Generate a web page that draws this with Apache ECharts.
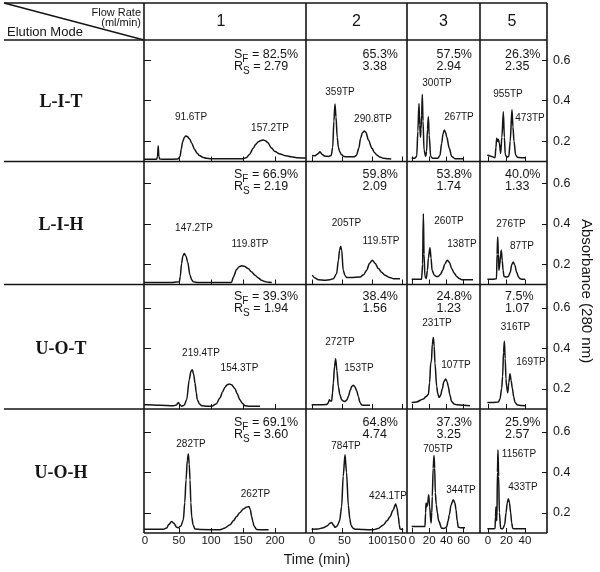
<!DOCTYPE html>
<html><head><meta charset="utf-8">
<script src="https://cdn.jsdelivr.net/npm/echarts@6/dist/echarts.min.js"></script>
<style>html,body{margin:0;padding:0;background:#fff}#c{width:600px;height:572px}</style>
</head><body><div id="c"></div>
<script>
// ---------- text content ----------
const flowRates = ['1', '2', '3', '5'];
const modes = ['L-I-T', 'L-I-H', 'U-O-T', 'U-O-H'];
const sfLIT = ['82.5%', '65.3%', '57.5%', '26.3%'];
const sfLIH = ['66.9%', '59.8%', '53.8%', '40.0%'];
const sfUOT = ['39.3%', '38.4%', '24.8%', '7.5%'];
const sfUOH = ['69.1%', '64.8%', '37.3%', '25.9%'];
const rsLIT = ['2.79', '3.38', '2.94', '2.35'];
const rsLIH = ['2.19', '2.09', '1.74', '1.33'];
const rsUOT = ['1.94', '1.56', '1.23', '1.07'];
const rsUOH = ['3.60', '4.74', '3.25', '2.57'];
const tpLIT = [['91.6TP', '157.2TP'], ['359TP', '290.8TP'], ['300TP', '267TP'], ['955TP', '473TP']];
const tpLIH = [['147.2TP', '119.8TP'], ['205TP', '119.5TP'], ['260TP', '138TP'], ['276TP', '87TP']];
const tpUOT = [['219.4TP', '154.3TP'], ['272TP', '153TP'], ['231TP', '107TP'], ['316TP', '169TP']];
const tpUOH = [['282TP', '262TP'], ['784TP', '424.1TP'], ['705TP', '344TP'], ['1156TP', '433TP']];

// ---------- axis ticks ----------
const xTicksF1 = [0, 50, 100, 150, 200];
const xTicksF2 = [0, 50, 100, 150];
const xTicksF3 = [0, 20, 40, 60];
const xTicksF5 = [0, 20, 40];
const yTicks = [0.2, 0.4, 0.6];

// ---------- chromatograms: [time (min), absorbance] ----------
const litF1 = [[-4.6,0.111],[0,0.111],[15,0.111],[16.5,0.125],[17.5,0.178],[18.5,0.125],[20,0.112],[30,0.111],[48,0.112],[51.6,0.124],[53.5,0.16],[55.7,0.198],[58.5,0.22],[60.4,0.226],[63,0.223],[66.4,0.212],[70,0.19],[74.2,0.16],[78,0.142],[82,0.13],[87,0.121],[92.4,0.116],[100,0.114],[150,0.114],[155.7,0.12],[160,0.135],[166,0.165],[170,0.185],[173.7,0.197],[178,0.204],[181.7,0.206],[185,0.203],[189,0.192],[194,0.168],[200,0.149],[208,0.137],[217,0.128],[225,0.123],[234,0.119],[248.4,0.117]];
const litF2 = [[0,0.13],[5,0.128],[10,0.138],[13.3,0.148],[17,0.134],[21.7,0.126],[28,0.125],[32,0.13],[34.5,0.17],[36.5,0.3],[38.3,0.384],[40,0.32],[42,0.22],[44,0.17],[46,0.15],[49,0.134],[53,0.125],[60,0.123],[70,0.123],[74,0.13],[78,0.165],[81,0.215],[84,0.242],[87.2,0.251],[90,0.243],[94,0.206],[100,0.165],[104,0.145],[108,0.132],[113,0.122],[119,0.116],[127,0.113],[132,0.112]];
const litF3 = [[-0.4,0.116],[3,0.116],[5.5,0.125],[6.8,0.25],[8.1,0.387],[9,0.28],[9.8,0.22],[10.5,0.26],[11.2,0.33],[12,0.432],[12.8,0.3],[14,0.157],[15.9,0.125],[17,0.15],[18,0.26],[19,0.321],[20,0.23],[21.7,0.125],[24,0.116],[30,0.116],[32.5,0.13],[34.5,0.19],[36,0.235],[37.6,0.256],[39,0.245],[40.3,0.222],[43.4,0.165],[46.1,0.125],[50,0.114],[59.7,0.113]];
const litF5 = [[-0.7,0.132],[4,0.125],[7.6,0.119],[8.6,0.17],[9.4,0.215],[10.3,0.2],[11.2,0.21],[12.3,0.19],[13.7,0.14],[15,0.22],[16.6,0.346],[17.7,0.22],[18.7,0.132],[20.5,0.122],[22.5,0.125],[24,0.2],[25.9,0.355],[27,0.27],[28.1,0.2],[29.9,0.132],[32,0.12],[36,0.119],[40.5,0.119]];

const lihF1 = [[-4.6,0.11],[0,0.11],[40,0.11],[50.5,0.114],[52,0.14],[54,0.203],[56,0.24],[58.3,0.253],[61,0.24],[63.5,0.211],[67.2,0.146],[70,0.122],[72.4,0.113],[80,0.11],[132,0.11],[135,0.137],[140,0.174],[144,0.188],[147.9,0.192],[152,0.19],[158,0.179],[163,0.163],[168.8,0.146],[174,0.132],[179,0.121],[184,0.115],[189.5,0.111],[195,0.11]];
const lihF2 = [[0.5,0.146],[5,0.132],[10.5,0.124],[21.7,0.121],[30,0.124],[35.6,0.129],[41,0.153],[44,0.22],[46,0.27],[47.8,0.289],[49.5,0.27],[52,0.17],[55,0.145],[57.8,0.134],[65,0.134],[80,0.137],[86,0.148],[91,0.17],[96,0.205],[100.6,0.22],[105,0.205],[110.6,0.179],[116,0.161],[121.7,0.146],[128,0.136],[135.6,0.129],[146.7,0.129]];
const lihF3 = [[-0.4,0.126],[5,0.126],[11.2,0.126],[12.3,0.2],[13.2,0.45],[14,0.25],[15,0.14],[16.5,0.13],[18,0.17],[19,0.23],[20.9,0.282],[22.2,0.23],[23.3,0.17],[26,0.146],[28,0.14],[30.6,0.14],[33,0.15],[35.7,0.17],[38,0.2],[41,0.22],[43.5,0.21],[46.1,0.179],[49,0.157],[51.9,0.14],[55,0.13],[57.8,0.124],[65,0.123],[71,0.123]];
const lihF5 = [[-0.7,0.126],[5,0.126],[9.2,0.128],[9.8,0.25],[10.5,0.335],[11.2,0.25],[11.8,0.17],[12.8,0.2],[13.6,0.25],[14.4,0.269],[15.4,0.22],[16.3,0.17],[17.3,0.14],[20,0.137],[22,0.14],[24,0.16],[25.8,0.2],[27.4,0.211],[29,0.195],[31,0.16],[33,0.137],[34.6,0.129],[37,0.126],[40,0.126]];

const uotF1 = [[-4.6,0.121],[0,0.121],[20,0.119],[41,0.116],[46,0.12],[49,0.132],[51,0.122],[54,0.114],[58,0.118],[62,0.146],[66,0.244],[68.5,0.285],[70.8,0.294],[73,0.27],[75,0.228],[77,0.18],[78.6,0.146],[82,0.125],[85.4,0.116],[95,0.113],[101,0.113],[108,0.125],[114,0.154],[118,0.185],[121.9,0.208],[125,0.219],[128.6,0.223],[132,0.22],[137.5,0.2],[141,0.175],[145,0.146],[149,0.128],[153,0.116],[160,0.113],[176.6,0.113]];
const uotF2 = [[-0.6,0.121],[10,0.121],[24.4,0.122],[27,0.13],[28.9,0.146],[30.8,0.14],[32.8,0.14],[34.2,0.18],[35.6,0.228],[37.5,0.31],[39.4,0.348],[41.5,0.29],[43.9,0.211],[46.5,0.17],[49.4,0.146],[52,0.14],[55,0.137],[58,0.145],[60.6,0.162],[64,0.195],[66.5,0.212],[68.9,0.217],[71.5,0.21],[74.5,0.19],[77.2,0.162],[80,0.132],[82.8,0.12],[90,0.118],[96.7,0.118]];
const uotF3 = [[-0.4,0.132],[5,0.135],[13.2,0.149],[16,0.16],[19,0.171],[20.5,0.23],[21.7,0.327],[22.6,0.335],[23.6,0.42],[24.8,0.453],[25.8,0.41],[26.7,0.327],[28.7,0.211],[30,0.175],[31.4,0.157],[33,0.165],[35.3,0.2],[37,0.235],[39.1,0.248],[40.8,0.235],[42.2,0.211],[44,0.17],[46.1,0.137],[49,0.125],[51.9,0.121],[60,0.118],[67.4,0.116]];
const uotF5 = [[-0.7,0.132],[5,0.132],[11.2,0.134],[13,0.15],[14.8,0.203],[15.8,0.26],[16.8,0.38],[17.7,0.434],[18.6,0.35],[19.4,0.25],[20.2,0.21],[21.3,0.18],[22.5,0.23],[23.8,0.274],[25,0.24],[26.3,0.203],[27.8,0.16],[29.2,0.132],[32,0.12],[36,0.117],[40,0.116]];

const uohF1 = [[-4.6,0.119],[0,0.119],[20,0.119],[25.5,0.119],[30.7,0.125],[34,0.142],[38.5,0.157],[42,0.148],[46.4,0.128],[49,0.126],[53,0.135],[56.8,0.165],[59,0.25],[61,0.363],[63,0.46],[64.6,0.49],[66,0.44],[67.2,0.363],[68.5,0.25],[69.8,0.182],[72,0.14],[75,0.12],[85,0.117],[114,0.116],[122,0.125],[129.7,0.141],[135,0.16],[140,0.182],[145,0.2],[150.5,0.218],[155,0.227],[159.4,0.231],[161.5,0.215],[163.5,0.182],[165.5,0.155],[167.2,0.134],[171.4,0.117],[180,0.116],[190,0.116]];
const uohF2 = [[-0.6,0.119],[10,0.12],[18.9,0.126],[25,0.135],[30,0.148],[32.8,0.152],[36,0.138],[38.3,0.128],[42,0.135],[46,0.16],[49.4,0.231],[52,0.38],[55,0.486],[57.5,0.4],[60.6,0.236],[63,0.17],[65,0.139],[68,0.125],[71.7,0.119],[85,0.117],[102.2,0.116],[110,0.122],[118.9,0.14],[125,0.16],[130,0.18],[135,0.212],[139.4,0.243],[141.5,0.225],[143.9,0.182],[145.5,0.14],[146.7,0.12],[152,0.116]];
const uohF3 = [[-0.4,0.132],[5,0.132],[15.1,0.132],[15.8,0.2],[16.3,0.248],[17.3,0.23],[18.3,0.25],[19.4,0.289],[20.5,0.23],[22.1,0.149],[23,0.2],[23.6,0.28],[24.6,0.42],[25.6,0.483],[26.4,0.42],[27.1,0.3],[28.2,0.24],[29.5,0.2],[31,0.16],[34.5,0.124],[37,0.122],[40.3,0.13],[42,0.16],[43.4,0.19],[45.5,0.24],[48,0.264],[49.8,0.25],[51.2,0.215],[52.5,0.16],[53.9,0.128],[57,0.126],[61.6,0.126]];
const uohF5 = [[-0.7,0.121],[5,0.121],[7.6,0.122],[8.1,0.18],[8.6,0.228],[9.1,0.18],[9.6,0.16],[10.2,0.4],[10.8,0.511],[11.5,0.38],[12.3,0.2],[13.7,0.122],[16,0.121],[18,0.14],[19.5,0.2],[20.8,0.25],[22,0.269],[23.2,0.25],[24.5,0.2],[25.6,0.15],[26.7,0.122],[30,0.121],[40,0.121]];

// ---------- layout (pixels) ----------
const LAY = {
  top: 3, head: 40, left: 4,
  rowBottom: [161.5, 284.5, 409, 533], rowH: 121.5,
  colL: [144, 306, 407, 480], colR: [306, 407, 480, 547],
  zeroX: [147, 312, 412, 488], ppu: [0.64, 0.6, 0.86, 0.925],
  sfX: [234, 362.5, 436.5, 505], sfY: [55, 175, 297, 423], rsDY: 12,
  tpPos: [
    [[[191,117],[270,128]], [[340,92],[373,119]], [[437,83],[459,117]], [[508,94],[530,118]]],
    [[[194,228],[250,244]], [[346.5,223],[381,241]], [[449,221],[462,244]], [[511,224],[522,246]]],
    [[[201,353],[239.5,368]], [[340,342],[359,368]], [[437,323],[456,365]], [[515.5,327],[531,362]]],
    [[[191,444],[255.5,494]], [[346,446],[388,496]], [[438,449],[461,490]], [[519,454],[523,487]]]
  ]
};

const FONT = '"Liberation Sans", Arial, Helvetica, sans-serif';
const INK = '#151515';
const curves = [[litF1, litF2, litF3, litF5], [lihF1, lihF2, lihF3, lihF5], [uotF1, uotF2, uotF3, uotF5], [uohF1, uohF2, uohF3, uohF5]];
const sfRows = [sfLIT, sfLIH, sfUOT, sfUOH];
const rsRows = [rsLIT, rsLIH, rsUOT, rsUOH];
const tpRows = [tpLIT, tpLIH, tpUOT, tpUOH];
const xTicks = [xTicksF1, xTicksF2, xTicksF3, xTicksF5];

const grids = [], xAxes = [], yAxes = [], series = [];
for (let r = 0; r < 4; r++) {
  for (let c = 0; c < 4; c++) {
    const g = r * 4 + c;
    grids.push({ left: LAY.colL[c], top: LAY.rowBottom[r] - LAY.rowH, width: LAY.colR[c] - LAY.colL[c], height: LAY.rowH, outerBoundsMode: 'none', containLabel: false });
    const tickVals = c === 0 ? xTicks[c].filter(v => v !== 0) : xTicks[c];
    const lab = {
      show: r === 3, customValues: xTicks[c], margin: 2, fontSize: 11.5, fontFamily: FONT, color: INK
    };
    if (c === 1) {
      lab.formatter = v => (v === 50 ? '{a|50}' : v === 100 ? '{b|100}' : v === 150 ? '{d|150}' : String(v));
      lab.rich = {
        a: { padding: [0, 0, 0, 5], fontSize: 11.5, fontFamily: FONT, color: INK },
        b: { padding: [0, 0, 0, 11], fontSize: 11.5, fontFamily: FONT, color: INK },
        d: { padding: [0, 10, 0, 0], fontSize: 11.5, fontFamily: FONT, color: INK }
      };
    }
    if (c === 0) {
      lab.formatter = v => (v === 0 ? '{z|0}' : String(v));
      lab.rich = { z: { padding: [0, 4, 0, 0], fontSize: 11.5, fontFamily: FONT, color: INK } };
    }
    xAxes.push({
      gridIndex: g, type: 'value',
      min: (LAY.colL[c] - LAY.zeroX[c]) / LAY.ppu[c],
      max: (LAY.colR[c] - LAY.zeroX[c]) / LAY.ppu[c],
      axisLine: { show: false, onZero: false }, splitLine: { show: false },
      axisTick: { show: true, inside: true, length: 5, customValues: tickVals, lineStyle: { color: INK, width: 1 } },
      axisLabel: lab
    });
    const y = { gridIndex: g, type: 'value', min: 0.1, max: 0.7, splitLine: { show: false }, axisLine: { show: false, onZero: false } };
    if (c === 0) {
      Object.assign(y, { position: 'left', axisTick: { show: true, inside: true, length: 7, customValues: yTicks, lineStyle: { color: INK, width: 1 } }, axisLabel: { show: false } });
    } else if (c === 3) {
      Object.assign(y, { position: 'right', axisTick: { show: true, inside: true, length: 5, customValues: yTicks, lineStyle: { color: INK, width: 1 } },
        axisLabel: { show: true, customValues: yTicks, margin: 6, fontSize: 12.5, fontFamily: FONT, color: INK, formatter: v => v.toFixed(1) } });
    } else {
      Object.assign(y, { show: false });
    }
    yAxes.push(y);
    series.push({
      type: 'line', xAxisIndex: g, yAxisIndex: g, data: curves[r][c],
      showSymbol: false, symbol: 'none', smooth: 0.3, smoothMonotone: 'x',
      lineStyle: { color: INK, width: 1.5 }, silent: true, clip: true
    });
  }
}

// ---------- table frame & text ----------
const G = [];
const LW = 1.6;
function hline(x1, x2, y) { G.push({ type: 'line', shape: { x1, y1: y, x2, y2: y }, style: { stroke: INK, lineWidth: LW }, silent: true }); }
function vline(x, y1, y2) { G.push({ type: 'line', shape: { x1: x, y1, x2: x, y2 }, style: { stroke: INK, lineWidth: LW }, silent: true }); }
function txt(x, y, text, extra) {
  G.push({ type: 'text', x, y, silent: true, style: Object.assign({ text, fill: INK, fontFamily: FONT, fontSize: 12, align: 'center', verticalAlign: 'middle' }, extra || {}) });
}
const R = LAY.colR[3];
hline(LAY.left, R, LAY.top);
hline(LAY.left, R, LAY.head);
for (let r = 0; r < 3; r++) hline(LAY.left, R, LAY.rowBottom[r]);
hline(LAY.colL[0], R, LAY.rowBottom[3]);
vline(LAY.colL[0], LAY.top, LAY.rowBottom[3]);
for (let c = 0; c < 4; c++) vline(LAY.colR[c], LAY.top, LAY.rowBottom[3]);
G.push({ type: 'line', shape: { x1: LAY.left, y1: LAY.top, x2: LAY.colL[0], y2: LAY.head }, style: { stroke: INK, lineWidth: 1.3 }, silent: true });

txt(141, 12.5, 'Flow Rate', { align: 'right', fontSize: 11 });
txt(141, 23.3, '(ml/min)', { align: 'right', fontSize: 11 });
txt(7, 32, 'Elution Mode', { align: 'left', fontSize: 13 });
const headX = [221, 356.5, 443.5, 512];
for (let c = 0; c < 4; c++) txt(headX[c], 22, flowRates[c], { fontSize: 16 });
for (let r = 0; r < 4; r++) {
  txt(61, (LAY.rowBottom[r] - LAY.rowH + LAY.rowBottom[r]) / 2 + 1.5, modes[r], { fontFamily: '"Liberation Serif", "Times New Roman", serif', fontWeight: 'bold', fontSize: 18 });
}
const M = { fontSize: 12.5, fontFamily: FONT, fill: INK };
const S = { fontSize: 10, fontFamily: FONT, fill: INK, padding: [8, 0, 0, 0] };
for (let r = 0; r < 4; r++) {
  for (let c = 0; c < 4; c++) {
    const x = LAY.sfX[c], y = LAY.sfY[r];
    if (c === 0) {
      txt(x, y, '{m|S}{s|F}{m| = ' + sfRows[r][c] + '}', { align: 'left', rich: { m: M, s: S } });
      txt(x, y + LAY.rsDY, '{m|R}{s|S}{m| = ' + rsRows[r][c] + '}', { align: 'left', rich: { m: M, s: S } });
    } else {
      txt(x, y, sfRows[r][c], { align: 'left', fontSize: 12.5 });
      txt(x, y + LAY.rsDY, rsRows[r][c], { align: 'left', fontSize: 12.5 });
    }
    for (let k = 0; k < 2; k++) {
      const p = LAY.tpPos[r][c][k];
      txt(p[0], p[1], tpRows[r][c][k], { fontSize: 10 });
    }
  }
}
txt(317, 560, 'Time (min)', { fontSize: 14 });
G.push({ type: 'text', x: 586, y: 291, rotation: -Math.PI / 2, silent: true,
  style: { text: 'Absorbance (280 nm)', fill: INK, fontFamily: FONT, fontSize: 15, align: 'center', verticalAlign: 'middle' } });

const chart = echarts.init(document.getElementById('c'), null, { renderer: 'canvas', width: 600, height: 572 });
chart.setOption({
  animation: false,
  backgroundColor: '#fff',
  grid: grids, xAxis: xAxes, yAxis: yAxes, series,
  graphic: { elements: G }
});
</script>
</body></html>
